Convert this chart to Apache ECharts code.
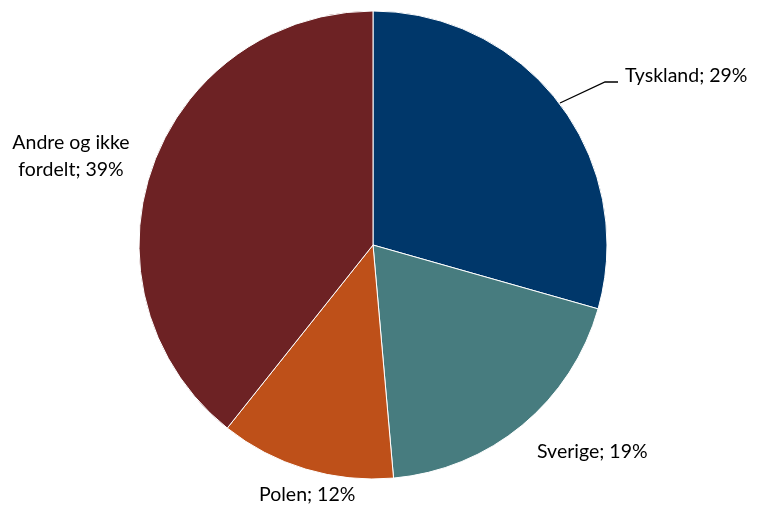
<!DOCTYPE html>
<html><head><meta charset="utf-8">
<script src="https://cdn.jsdelivr.net/npm/echarts@6/dist/echarts.min.js"></script>
<style>html,body{margin:0;padding:0;background:#fff}#c{width:757px;height:507px}</style>
</head><body><div id="c"></div>
<script>
var categories = ['Tyskland', 'Sverige', 'Polen', 'Andre og ikke\nfordelt'];
var values = [29.4, 19.2, 12.1, 39.3];
var colors = ['#00376A', '#477C7F', '#BE5019', '#6D2224'];
var labelPos = [
  {x: 625, y: 76, align: 'left'},
  {x: 537, y: 452, align: 'left'},
  {x: 259, y: 495, align: 'left'},
  {x: 71, y: 156, align: 'center'}
];
var chart = echarts.init(document.getElementById('c'));
chart.setOption({
  animation: false,
  series: [{
    type: 'pie',
    center: [373, 245],
    radius: [0, 234],
    startAngle: 90,
    clockwise: true,
    data: categories.map(function (n, i) {
      return {
        name: n, value: values[i],
        itemStyle: {color: colors[i]},
        labelLine: {show: i === 0}
      };
    }),
    itemStyle: {borderColor: '#fff', borderWidth: 1},
    label: {
      show: true,
      formatter: function (p) { return p.name + '; ' + Math.round(p.percent) + '%'; },
      fontFamily: 'Lato',
      fontSize: 19.5,
      color: '#000',
      lineHeight: 27
    },
    labelLine: {lineStyle: {color: '#000', width: 1.3}, length: 10, length2: 10},
    labelLayout: function (p) {
      var l = labelPos[p.dataIndex];
      var r = {x: l.x, y: l.y, align: l.align, verticalAlign: 'middle'};
      if (p.dataIndex === 0) {
        r.labelLinePoints = [[560, 103], [605, 82], [618, 82]];
      }
      return r;
    }
  }]
});
</script></body></html>
